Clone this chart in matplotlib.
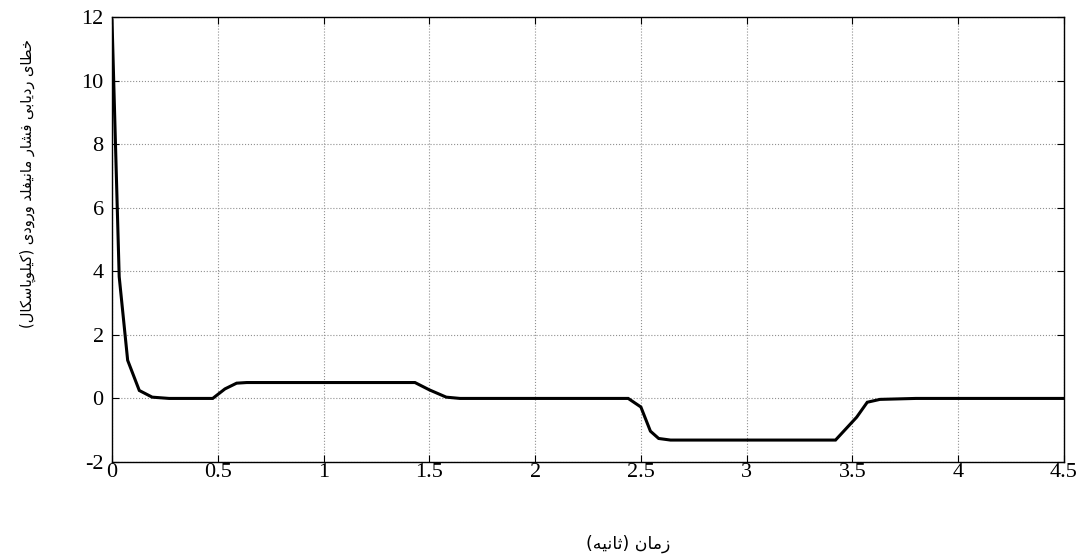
import numpy as np
import matplotlib
matplotlib.use("Agg")
import matplotlib.pyplot as plt


# time (s) and manifold pressure tracking error (kPa)
t = [0.0, 0.034, 0.074, 0.129, 0.19, 0.27, 0.476, 0.534, 0.589, 0.637,
     1.432, 1.50, 1.58, 1.645, 2.44, 2.50, 2.545, 2.584, 2.64,
     3.42, 3.52, 3.57, 3.63, 3.80, 4.5]
err = [11.9, 3.83, 1.2, 0.25, 0.04, 0.0, 0.0, 0.3, 0.48, 0.5,
       0.5, 0.27, 0.04, 0.0, 0.0, -0.27, -1.03, -1.26, -1.31,
       -1.31, -0.59, -0.12, -0.03, 0.0, 0.0]

x_ticks = [0, 0.5, 1, 1.5, 2, 2.5, 3, 3.5, 4, 4.5]
x_tick_labels = ['0', '0.5', '1', '1.5', '2', '2.5', '3', '3.5', '4', '4.5']
y_ticks = [-2, 0, 2, 4, 6, 8, 10, 12]
y_tick_labels = ['-2', '0', '2', '4', '6', '8', '10', '12']

X_LABEL = "زمان (ثانیه)"
Y_LABEL = "خطای ردیابی فشار مانیفلد ورودی (کیلوپاسکال)"


# ----------------------------------------------------------------------
# matplotlib does no arabic shaping, so pick presentation forms by hand
# (isolated, final, initial, medial) and flip to visual order
# ----------------------------------------------------------------------

DUAL = {'ب': 0xFE8F, 'ت': 0xFE95, 'ث': 0xFE99, 'خ': 0xFEA5, 'س': 0xFEB1,
        'ش': 0xFEB5, 'ط': 0xFEC1, 'ف': 0xFED1, 'ل': 0xFEDD, 'م': 0xFEE1,
        'ن': 0xFEE5, 'ه': 0xFEE9, 'پ': 0xFB56, 'ک': 0xFB8E, 'ی': 0xFBFC}
RIGHT = {'ا': 0xFE8D, 'د': 0xFEA9, 'ر': 0xFEAD, 'ز': 0xFEAF, 'و': 0xFEED}


def shape(s):
    out = []
    for i, c in enumerate(s):
        base = DUAL.get(c, RIGHT.get(c))
        if base is None:
            out.append({'(': ')', ')': '('}.get(c, c))
            continue
        prev = s[i - 1] if i > 0 else ''
        nxt = s[i + 1] if i + 1 < len(s) else ''
        jp = prev in DUAL
        jn = c in DUAL and (nxt in DUAL or nxt in RIGHT)
        off = 3 if (jp and jn) else 1 if jp else 2 if jn else 0
        out.append(chr(base + off))
    return ''.join(reversed(out))


W, H = 1086, 557
fig = plt.figure(figsize=(W / 100, H / 100), dpi=100)
ax = fig.add_axes([112 / W, 1 - 462 / H, (1064 - 112) / W, (462 - 17) / H])

ax.plot(t, err, color='black', linewidth=2.2, solid_joinstyle='miter')

ax.set_xlim(0, 4.5)
ax.set_ylim(-2, 12)
ax.set_xticks(x_ticks)
ax.set_xticklabels(x_tick_labels)
ax.set_yticks(y_ticks)
ax.set_yticklabels(y_tick_labels)

ax.grid(True, linestyle=':', color='#909090', linewidth=0.8)
ax.tick_params(direction='in', top=True, right=True, length=5, width=0.8,
               labelsize=16)
ax.tick_params(axis='x', pad=1)
ax.tick_params(axis='y', pad=6)
for lab in ax.get_xticklabels() + ax.get_yticklabels():
    lab.set_family('Liberation Serif')
for sp in ax.spines.values():
    sp.set_linewidth(1.0)

fig.text(628 / W, 1 - 544 / H, shape(X_LABEL), ha='center', va='center',
         fontsize=12.5, family=['DejaVu Sans', 'Noto Sans'])
fig.text(28 / W, 1 - 184 / H, shape(Y_LABEL), ha='center', va='center',
         rotation=90, fontsize=10.5, family=['DejaVu Sans', 'Noto Sans'])

fig.savefig('out.png', dpi=100)
